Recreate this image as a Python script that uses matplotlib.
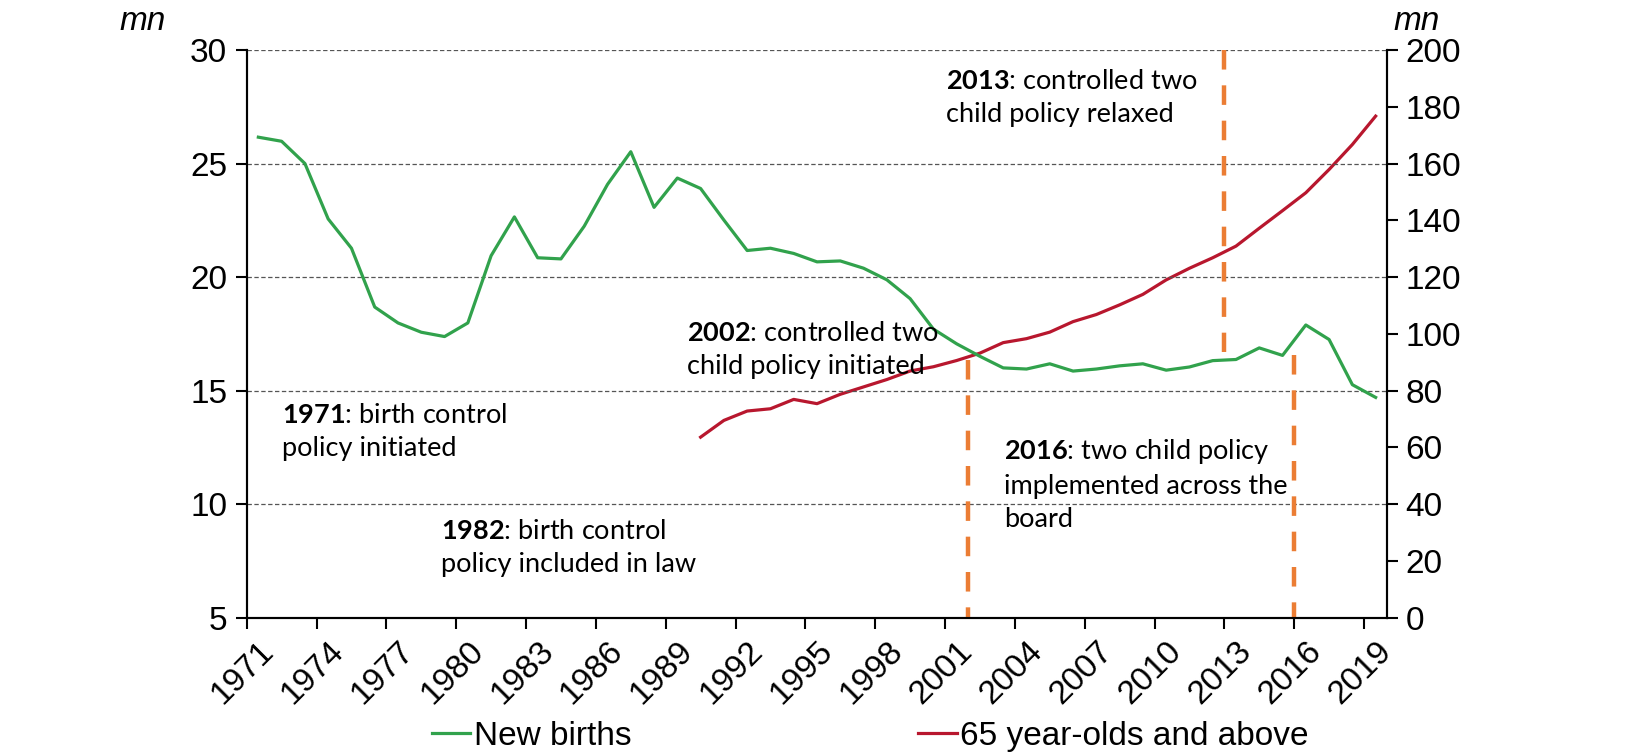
import matplotlib
matplotlib.use("Agg")
import matplotlib.pyplot as plt
import numpy as np

years = list(range(1971, 2020))
births = [26.16, 25.98, 25.0, 22.56, 21.27, 18.68, 17.98, 17.57, 17.38, 17.98,
          20.94, 22.65, 20.85, 20.80, 22.24, 24.08, 25.52, 23.07, 24.36, 23.9,
          22.51, 21.17, 21.27, 21.04, 20.67, 20.71, 20.39, 19.88, 19.05, 17.71,
          17.06, 16.51, 16.0, 15.95, 16.18, 15.86, 15.95, 16.09, 16.18, 15.9,
          16.04, 16.32, 16.37, 16.88, 16.55, 17.89, 17.25, 15.26, 14.7]
elderly_years = list(range(1990, 2020))
elderly = [63.6, 69.5, 72.8, 73.6, 76.9, 75.4, 78.7, 81.3, 83.9, 86.9,
           88.4, 90.6, 93.2, 96.9, 98.3, 100.6, 104.3, 106.8, 110.2, 113.9,
           119.0, 123.1, 126.8, 130.9, 137.2, 143.4, 149.7, 157.9, 166.7, 176.7]
policy_years = [2002, 2013, 2016]
policy_lo = [5, 16.7, 5]
policy_hi = [16.35, 30, 16.55]
tick_years = list(range(1971, 2020, 3))

notes = [
    ("1971", ": birth control\npolicy initiated", 1971),
    ("1982", ": birth control\npolicy included in law", 1982),
    ("2002", ": controlled two\nchild policy initiated", 2002),
    ("2013", ": controlled two\nchild policy relaxed", 2013),
    ("2016", ": two child policy\nimplemented across the\nboard", 2016),
]
note_pos = [(1.52, 13.16), (8.35, 8.07), (18.92, 16.81), (30.06, 27.89), (32.52, 10.85)]

plt.rcParams['font.family'] = ['Liberation Sans', 'DejaVu Sans']
plt.rcParams['mathtext.fontset'] = 'custom'
plt.rcParams['mathtext.bf'] = 'Lato:bold'
plt.rcParams['mathtext.rm'] = 'Lato'

GREEN = '#31A24C'
RED = '#B8172E'
ORANGE = '#EB7D34'
FS = 24

fig = plt.figure(figsize=(16.48, 7.54), dpi=100)
ax = fig.add_axes([0.1497, 0.1808, 0.8418 - 0.1497, 0.9337 - 0.1808])
ax2 = ax.twinx()

xb = np.array([y - 1971 + 0.5 for y in years])
xe = np.array([y - 1971 + 0.5 for y in elderly_years])

ax.set_xlim(0, 49)
ax.set_ylim(5, 30)
ax2.set_ylim(0, 200)

# grid
for v in [10, 15, 20, 25, 30]:
    ax.axhline(v, color='#555555', lw=0.9, ls=(0, (3.5, 2)), zorder=1)

lb, = ax.plot(xb, births, color=GREEN, lw=2.3, zorder=3, label='New births')
le, = ax2.plot(xe, elderly, color=RED, lw=2.3, zorder=3, label='65 year-olds and above')

for py, lo, hi in zip(policy_years, policy_lo, policy_hi):
    ax.plot([py - 1971, py - 1971], [hi, lo], color=ORANGE, lw=3.2,
            ls=(0, (4.4, 3.55)), zorder=2)

# axes styling
for a in (ax, ax2):
    a.spines['top'].set_visible(False)
    for s in ('left', 'right', 'bottom'):
        a.spines[s].set_linewidth(1.5)
        a.spines[s].set_color('black')
ax.set_yticks([5, 10, 15, 20, 25, 30])
ax2.set_yticks(range(0, 201, 20))
ax.tick_params(axis='y', direction='out', length=8, width=1.5, labelsize=FS, pad=6)
ax2.tick_params(axis='y', direction='out', length=8, width=1.5, labelsize=FS, pad=5)

ax.set_xticks([y - 1971 for y in tick_years])
ax.set_xticklabels([])
ax.tick_params(axis='x', which='major', direction='out', length=8, width=1.5)
ax.set_xticks([y - 1971 + 0.5 for y in tick_years], minor=True)
ax.set_xticklabels([str(y) for y in tick_years], minor=True, rotation=45,
                   ha='right', rotation_mode='anchor', fontsize=FS)
ax.tick_params(axis='x', which='minor', length=0, pad=13)

ax.set_zorder(ax2.get_zorder() + 1)
ax.patch.set_visible(False)

fig.text(0.0725, 0.972, 'mn', fontsize=FS, style='italic', ha='left', va='center')
fig.text(0.8455, 0.972, 'mn', fontsize=FS, style='italic', ha='left', va='center')

for (yr, rest, _), (nx, ny) in zip(notes, note_pos):
    lines = rest.split('\n')
    txt = r'$\bf{' + yr + '}$' + lines[0] + '\n' + '\n'.join(lines[1:])
    ax.text(nx, ny, txt, fontsize=19.5, family='Lato', ha='left', va='center',
            linespacing=1.4, zorder=5)

fig.legend([lb, le], ['New births', '65 year-olds and above'], loc='center',
           bbox_to_anchor=(0.528, 0.023), ncol=2, frameon=False, fontsize=FS,
           handlelength=1.16, handletextpad=0.1, columnspacing=8.6)

fig.savefig('out.png', dpi=100)
